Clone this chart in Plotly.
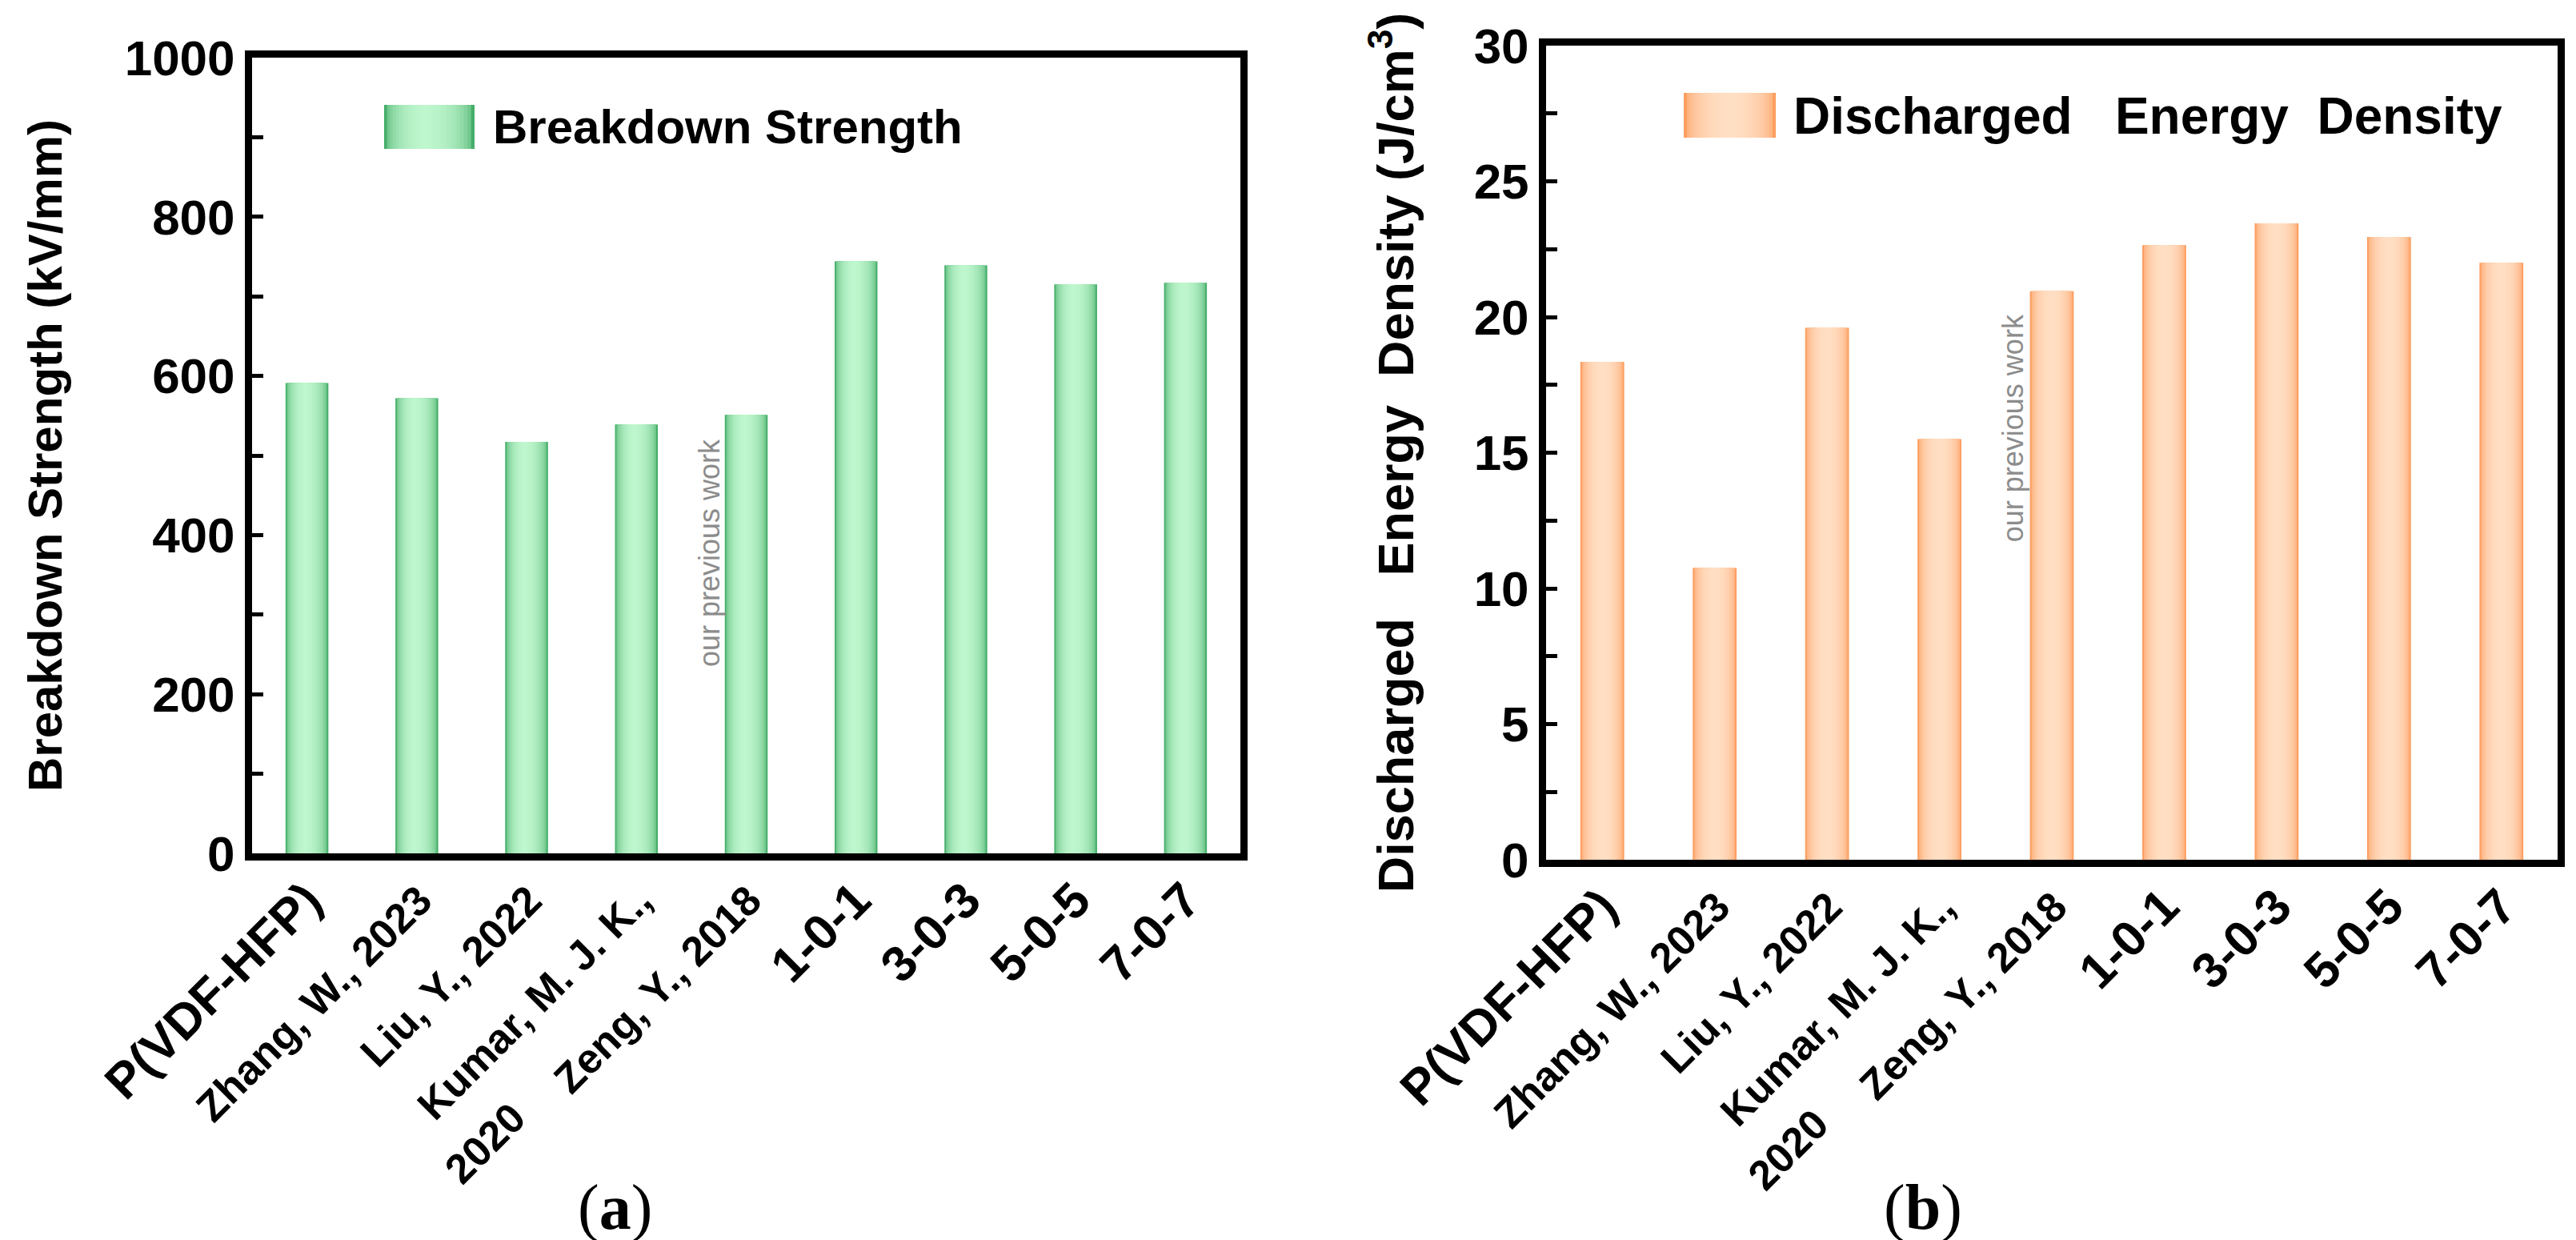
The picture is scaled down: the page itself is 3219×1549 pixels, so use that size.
import math
import plotly.graph_objects as go

# ---------------- data ----------------
categories = ["P(VDF-HFP)", "Zhang, W., 2023", "Liu, Y., 2022", "Kumar, M. J. K.,", "Zeng, Y., 2018",
              "1-0-1", "3-0-3", "5-0-5", "7-0-7"]
category_second_line = ["", "", "", "2020", "", "", "", "", ""]
is_literature = [False, True, True, True, True, False, False, False, False]
breakdown_strength = [591, 572, 517, 539, 551, 744, 739, 715, 717]   # kV/mm
energy_density = [18.35, 10.75, 19.6, 15.5, 20.95, 22.65, 23.45, 22.95, 22.0]  # J/cm3
note_text = "our previous work"
note_x = 3.66
note_y_bd = 378
note_y_ed = 15.9

# ---------------- style ----------------
W, H = 3219, 1549
FONT = "Liberation Sans"
SERIF = "Liberation Serif"
GREEN_EDGE, GREEN_CENTER = (70, 174, 106), (190, 246, 205)
ORANGE_EDGE, ORANGE_CENTER = (253, 158, 96), (255, 223, 196)
GREEN_PEAK, ORANGE_PEAK = 0.45, 0.5   # where the light band sits across a bar (0 = left edge)
N_LAYERS = 14
BAR_W = 0.39

# panel pixel boxes (left, top, right, bottom)
PA = (307, 64, 1542, 1058)
PB = (1924, 49, 3188, 1066)


def dom(box):
    l, t, r, b = box
    return [l / W, r / W], [1 - b / H, 1 - t / H]


def mix(c0, c1, f):
    return "rgb(%d,%d,%d)" % tuple(round(a + (b - a) * f) for a, b in zip(c0, c1))


def layers(edge, center, peak):
    """nested stripes: (left inset fraction, right inset fraction, colour)"""
    out = []
    for i in range(N_LAYERS):
        t = i / N_LAYERS
        light = math.sqrt(max(0.0, 1 - (1 - t) ** 2))
        out.append((peak * t, (1 - peak) * t, mix(edge, center, light)))
    return out


x_idx = list(range(len(categories)))
ticktext = []
for name, second, lit in zip(categories, category_second_line, is_literature):
    label = name
    if second:
        label = name + "<br>" + second + "\u00a0" * 21
    if lit:
        label = '<span style="font-size:52px">' + label + "</span>"
    ticktext.append(label)

fig = go.Figure()

for vals, edge, center, peak, xa, ya in [
    (breakdown_strength, GREEN_EDGE, GREEN_CENTER, GREEN_PEAK, "x", "y"),
    (energy_density, ORANGE_EDGE, ORANGE_CENTER, ORANGE_PEAK, "x2", "y2"),
]:
    for a, b, col in layers(edge, center, peak):
        fig.add_trace(go.Bar(
            x=x_idx, y=vals, width=BAR_W * (1 - a - b), offset=-BAR_W / 2 + BAR_W * a,
            xaxis=xa, yaxis=ya,
            marker=dict(color=col, line=dict(width=0)),
            showlegend=False, hoverinfo="skip"))

xa_dom, ya_dom = dom(PA)
xb_dom, yb_dom = dom(PB)

axis_common = dict(showline=True, linewidth=9, linecolor="black", mirror=True,
                   showgrid=False, zeroline=False, automargin=False)
xaxis_common = dict(axis_common, range=[-0.5, 8.5], tickmode="array", tickvals=x_idx,
                    ticktext=ticktext, tickangle=-45, ticks="", ticklabelstandoff=-12,
                    tickfont=dict(family=FONT, size=62, color="black", weight="bold"))
yaxis_common = dict(axis_common, ticks="inside", ticklen=14, tickwidth=5, tickcolor="black",
                    tickfont=dict(family=FONT, size=62, color="black", weight="bold"))

SP3 = "\u00a0\u00a0\u00a0"
SP2 = "\u00a0\u00a0"

fig.update_layout(
    width=W, height=H, barmode="overlay",
    margin=dict(l=0, r=0, t=0, b=0),
    paper_bgcolor="white", plot_bgcolor="white",
    xaxis=dict(xaxis_common, domain=xa_dom, anchor="y"),
    yaxis=dict(yaxis_common, domain=ya_dom, anchor="x", range=[0, 1000], dtick=200,
               minor=dict(ticks="inside", dtick=100, ticklen=14, tickwidth=5, tickcolor="black"),
               title=dict(text="Breakdown Strength (kV/mm)", standoff=62,
                          font=dict(family=FONT, size=60, color="black", weight="bold"))),
    xaxis2=dict(xaxis_common, domain=xb_dom, anchor="y2"),
    yaxis2=dict(yaxis_common, domain=yb_dom, anchor="x2", range=[0, 30], dtick=5,
                minor=dict(ticks="inside", dtick=2.5, ticklen=14, tickwidth=5, tickcolor="black"),
                title=dict(text="Discharged" + SP3 + "Energy" + SP2 + "Density (J/cm<sup>3</sup>)",
                           standoff=58,
                           font=dict(family=FONT, size=63, color="black", weight="bold"))),
)

# legend swatches (gradient rectangles) + legend texts
def swatch(xref, yref, x0, x1, y0, y1, edge, center, peak):
    w = x1 - x0
    for a, b, col in layers(edge, center, peak):
        fig.add_shape(type="rect", xref=xref, yref=yref,
                      x0=x0 + w * a, x1=x1 - w * b, y0=y0, y1=y1,
                      fillcolor=col, line=dict(width=0), layer="above")

swatch("x domain", "y domain", 0.1336, 0.2251, 0.8853, 0.9406, GREEN_EDGE, GREEN_CENTER, GREEN_PEAK)
swatch("x2 domain", "y2 domain", 0.1361, 0.2271, 0.887, 0.942, ORANGE_EDGE, ORANGE_CENTER, ORANGE_PEAK)

fig.add_annotation(xref="x domain", yref="y domain", x=0.2421, y=0.9125, xanchor="left",
                   yanchor="middle", text="Breakdown Strength", showarrow=False,
                   font=dict(family=FONT, size=60, color="black", weight="bold"))
fig.add_annotation(xref="x2 domain", yref="y2 domain", x=0.2429, y=0.9135, xanchor="left",
                   yanchor="middle", text="Discharged" + SP3 + "Energy" + SP2 + "Density",
                   showarrow=False, font=dict(family=FONT, size=64, color="black", weight="bold"))

note_font = dict(family=FONT, size=36, color="#8c8c8c")
fig.add_annotation(xref="x", yref="y", x=note_x, y=note_y_bd, text=note_text, textangle=-90,
                   showarrow=False, font=note_font)
fig.add_annotation(xref="x2", yref="y2", x=note_x, y=note_y_ed, text=note_text, textangle=-90,
                   showarrow=False, font=note_font)

panel_font = dict(family=SERIF, size=80, color="black")
fig.add_annotation(xref="paper", yref="paper", x=760 / W, y=1 - 1500 / H, text="(<b>a</b>)",
                   showarrow=False, font=panel_font, xanchor="center", yanchor="middle")
fig.add_annotation(xref="paper", yref="paper", x=2395 / W, y=1 - 1500 / H, text="(<b>b</b>)",
                   showarrow=False, font=panel_font, xanchor="center", yanchor="middle")

fig.write_html("out.html")
